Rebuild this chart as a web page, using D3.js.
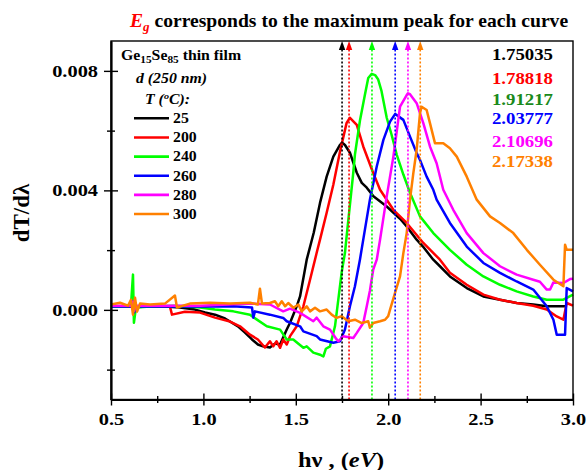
<!DOCTYPE html>
<html><head><meta charset="utf-8">
<script src="https://cdn.jsdelivr.net/npm/d3@7"></script>
</head><body style="margin:0;background:#fff">
<svg id="c" width="586" height="470" font-family="Liberation Serif" font-weight="bold" style="display:block"></svg>
<script>
// ---------- data ----------
const temps = ["25","200","240","260","280","300"];
const colors = ["#000000","#ff0000","#00ff00","#0000ff","#ff00ff","#ff8000"];
const egValues = [1.75035,1.78818,1.91217,2.03777,2.10696,2.17338];
const egColors = ["#000000","#ff0000","#1a8a1a","#0000ff","#ff00ff","#ff8000"];
const xTicks = [0.5,1.0,1.5,2.0,2.5,3.0];
const xMinor = [0.75,1.25,1.75,2.25,2.75];
const yTicks = [0,0.004,0.008];
const yMinor = [-0.002,0.002,0.006];
const yUnit = 1e-3; // series y values below are in units of 1e-3

const s25 = [[0.50,0.11],[0.576,0.11],[0.612,0.12],[0.619,0.24],[0.625,0.02],[0.635,0.10],[0.711,0.11],[0.792,0.11],[0.873,0.08],[0.955,0.01],[1.009,-0.09],[1.063,-0.16],[1.117,-0.29],[1.187,-0.55],[1.225,-0.76],[1.263,-0.99],[1.295,-1.16],[1.322,-1.22],[1.36,-1.26],[1.387,-1.13],[1.415,-1.16],[1.431,-0.93],[1.451,-0.66],[1.469,-0.43],[1.505,0.12],[1.523,0.45],[1.559,1.68],[1.597,2.58],[1.631,3.58],[1.667,4.46],[1.703,5.13],[1.739,5.52],[1.750,5.60],[1.766,5.52],[1.793,5.26],[1.83,4.59],[1.857,4.25],[1.884,4.09],[1.92,3.80],[1.992,3.46],[2.064,3.05],[2.10,2.79],[2.154,2.35],[2.188,2.12],[2.244,1.68],[2.28,1.46],[2.334,1.12],[2.425,0.73],[2.515,0.45],[2.605,0.34],[2.695,0.23],[2.785,0.18],[2.858,0.12],[2.957,0.12]];
const s200 = [[0.50,0.11],[0.612,0.11],[0.619,0.21],[0.625,0.03],[0.635,0.11],[0.711,0.11],[0.819,0.11],[0.83,-0.16],[0.90,-0.06],[0.982,-0.09],[1.063,-0.26],[1.144,-0.39],[1.198,-0.55],[1.252,-0.83],[1.295,-0.99],[1.333,-1.26],[1.36,-1.05],[1.378,-1.22],[1.396,-1.05],[1.415,-1.27],[1.432,-0.99],[1.451,-1.16],[1.469,-0.88],[1.505,-0.55],[1.541,0.12],[1.577,1.01],[1.613,1.91],[1.631,2.35],[1.667,3.25],[1.703,4.19],[1.739,5.29],[1.775,6.26],[1.793,6.43],[1.83,6.19],[1.865,5.47],[1.919,4.58],[1.956,4.02],[2.028,3.35],[2.10,2.91],[2.19,2.24],[2.28,1.68],[2.334,1.24],[2.425,0.84],[2.515,0.51],[2.605,0.34],[2.695,0.23],[2.785,0.14],[2.858,0.01],[2.912,-0.22],[2.948,-0.33],[2.966,0.23],[3.0,0.14]];
const s240 = [[0.50,0.11],[0.576,0.11],[0.608,0.14],[0.619,1.18],[0.624,-0.43],[0.635,0.08],[0.711,0.11],[0.846,0.14],[0.982,0.08],[1.063,0.01],[1.162,-0.05],[1.252,-0.16],[1.274,-0.26],[1.343,-0.55],[1.415,-0.66],[1.451,-0.99],[1.486,-0.99],[1.541,-1.27],[1.559,-1.22],[1.595,-1.43],[1.631,-1.50],[1.649,-1.56],[1.663,-1.30],[1.685,-1.22],[1.712,-0.55],[1.73,0.34],[1.748,1.25],[1.766,1.91],[1.775,2.46],[1.793,3.52],[1.811,4.59],[1.82,5.20],[1.847,6.33],[1.874,7.20],[1.892,7.76],[1.911,7.90],[1.929,7.86],[1.946,7.71],[1.964,7.32],[1.992,6.43],[2.018,5.87],[2.046,5.20],[2.082,4.53],[2.118,3.92],[2.172,3.13],[2.244,2.57],[2.334,2.01],[2.425,1.51],[2.515,1.12],[2.605,0.84],[2.695,0.62],[2.785,0.45],[2.858,0.34],[2.948,0.34],[3.0,0.51]];
const s260 = [[0.50,0.11],[0.612,0.11],[0.619,0.28],[0.625,-0.09],[0.635,0.11],[0.711,0.11],[0.982,0.11],[1.162,0.12],[1.263,0.08],[1.27,-0.26],[1.279,-0.05],[1.36,-0.16],[1.432,-0.27],[1.451,-0.38],[1.523,-0.55],[1.541,-0.72],[1.613,-0.88],[1.631,-0.99],[1.703,-1.10],[1.739,-1.05],[1.766,-0.66],[1.793,0.12],[1.82,0.79],[1.847,1.68],[1.865,2.35],[1.901,3.69],[1.938,4.80],[1.974,5.69],[2.01,6.30],[2.038,6.56],[2.082,6.36],[2.118,5.80],[2.154,5.25],[2.172,5.02],[2.208,4.46],[2.244,4.02],[2.262,3.69],[2.334,2.91],[2.425,2.12],[2.515,1.57],[2.605,1.24],[2.695,0.95],[2.785,0.68],[2.858,0.12],[2.894,-0.33],[2.912,-0.83],[2.957,-0.83],[2.966,0.73],[3.0,0.62]];
const s280 = [[0.50,0.14],[0.612,0.14],[0.619,0.28],[0.625,-0.03],[0.635,0.14],[0.711,0.14],[0.982,0.14],[1.252,0.21],[1.36,0.18],[1.432,-0.05],[1.469,0.04],[1.523,-0.10],[1.595,-0.38],[1.613,-0.26],[1.649,-0.55],[1.685,-0.66],[1.721,-0.99],[1.731,-1.05],[1.757,-0.88],[1.811,-0.94],[1.83,-0.77],[1.865,-0.44],[1.884,0.12],[1.901,0.64],[1.919,1.35],[1.938,1.68],[1.956,2.35],[1.992,3.80],[2.028,5.13],[2.064,6.80],[2.10,7.19],[2.107,7.25],[2.118,7.22],[2.154,6.92],[2.19,6.25],[2.226,5.47],[2.262,4.91],[2.298,4.02],[2.352,3.35],[2.425,2.57],[2.515,1.90],[2.605,1.46],[2.695,1.18],[2.785,1.01],[2.821,0.94],[2.858,0.68],[2.876,0.68],[2.894,0.92],[2.948,0.90],[2.984,1.03],[3.0,1.04]];
const s300 = [[0.50,0.18],[0.549,0.24],[0.592,0.14],[0.608,0.34],[0.619,-0.16],[0.63,0.41],[0.641,-0.06],[0.657,0.21],[0.711,0.18],[0.792,0.21],[0.846,0.48],[0.857,0.08],[0.927,0.21],[1.036,0.24],[1.144,0.21],[1.252,0.24],[1.295,0.18],[1.306,0.71],[1.317,0.21],[1.36,0.23],[1.387,0.29],[1.405,0.12],[1.424,0.29],[1.442,0.12],[1.459,0.23],[1.487,0.07],[1.514,0.18],[1.532,-0.05],[1.559,0.12],[1.577,-0.05],[1.604,0.07],[1.631,-0.05],[1.667,0.01],[1.694,-0.16],[1.721,-0.27],[1.748,-0.21],[1.784,-0.38],[1.82,-0.33],[1.857,-0.44],[1.892,-0.38],[1.901,-0.60],[1.919,-0.44],[1.956,-0.38],[1.983,-0.33],[2.0,-0.21],[2.01,0.01],[2.037,0.57],[2.064,1.12],[2.082,1.90],[2.10,2.57],[2.118,3.69],[2.136,4.58],[2.154,5.36],[2.172,6.58],[2.181,6.80],[2.208,6.69],[2.226,6.25],[2.253,5.58],[2.298,5.58],[2.334,5.41],[2.371,5.13],[2.425,4.46],[2.479,3.69],[2.551,3.13],[2.605,2.91],[2.677,2.57],[2.75,2.01],[2.821,1.51],[2.894,1.01],[2.948,0.79],[2.957,2.18],[2.966,2.01],[3.0,2.01]];
const seriesList = [s25,s200,s240,s260,s280,s300];

// ---------- layout ----------
const FONT = "Liberation Serif";
const svg = d3.select("#c");
const L = 111, R = 573, T = 41, B = 399.5;
const x = d3.scaleLinear().domain([0.5,3.0]).range([L,R]);
const y = d3.scaleLinear().domain([-0.003,0.009]).range([B,T]);

function txt(parent, px, py, size, sx){
  return parent.append("text").attr("transform",`translate(${px},${py}) scale(${sx},1)`)
    .attr("font-family",FONT).attr("font-weight","bold").attr("font-size",size);
}

// title
const title = txt(svg, 349, 27, 18, 1.09).attr("text-anchor","middle");
title.append("tspan").attr("fill","#ff0000").attr("font-style","italic").text("E");
title.append("tspan").attr("fill","#ff0000").attr("font-style","italic").attr("font-size",12).attr("dy",4).text("g");
title.append("tspan").attr("fill","#000").attr("dy",-4).text(" corresponds to the maximum peak for each curve");

// series
const line = d3.line().x(d=>x(d[0])).y(d=>y(d[1]*yUnit));
svg.append("g").selectAll("path").data(seriesList).join("path")
  .attr("d",line).attr("fill","none")
  .attr("stroke",(d,i)=>colors[i]).attr("stroke-width",2.5).attr("stroke-linejoin","round");

// Eg dotted markers with arrows
const eg = svg.append("g");
egValues.forEach((v,i)=>{
  eg.append("line").attr("x1",x(v)).attr("x2",x(v)).attr("y1",B).attr("y2",T+8)
    .attr("stroke",colors[i]).attr("stroke-width",1.6).attr("stroke-dasharray","2,2");
  eg.append("path").attr("d",`M${x(v)},${T}L${x(v)-3.2},${T+9}L${x(v)+3.2},${T+9}Z`).attr("fill",colors[i]);
});

// axes
const ax = svg.append("g");
ax.append("rect").attr("x",L).attr("y",T).attr("width",R-L).attr("height",B-T)
  .attr("fill","none").attr("stroke","#000").attr("stroke-width",1.4);
const xAxisG = ax.append("g").attr("transform",`translate(0,${B})`);
xAxisG.call(d3.axisBottom(x).tickValues(xTicks).tickSizeInner(6).tickSizeOuter(0).tickPadding(7.5).tickFormat(d3.format(".1f")));
xAxisG.append("g").call(d3.axisBottom(x).tickValues(xTicks).tickSizeInner(-6).tickSizeOuter(0).tickFormat(""));
xAxisG.append("g").call(d3.axisBottom(x).tickValues(xMinor).tickSizeInner(3.5).tickSizeOuter(0).tickFormat(""));
xAxisG.append("g").call(d3.axisBottom(x).tickValues(xMinor).tickSizeInner(-3.5).tickSizeOuter(0).tickFormat(""));
const yAxisG = ax.append("g").attr("transform",`translate(${L},0)`);
yAxisG.call(d3.axisLeft(y).tickValues(yTicks).tickSizeInner(7).tickSizeOuter(0).tickPadding(3.8).tickFormat(d3.format(".3f")));
yAxisG.append("g").call(d3.axisLeft(y).tickValues(yTicks).tickSizeInner(-7).tickSizeOuter(0).tickFormat(""));
yAxisG.append("g").call(d3.axisLeft(y).tickValues(yMinor).tickSizeInner(4).tickSizeOuter(0).tickFormat(""));
yAxisG.append("g").call(d3.axisLeft(y).tickValues(yMinor).tickSizeInner(-4).tickSizeOuter(0).tickFormat(""));
ax.selectAll("g").attr("font-family",FONT).attr("font-weight","bold");
ax.selectAll(".domain").attr("stroke","#000").attr("stroke-width",1.4);
ax.selectAll(".tick line").attr("stroke","#000").attr("stroke-width",1.4);
ax.selectAll(".tick text").attr("font-family",FONT).attr("font-weight","bold")
  .attr("font-size",17).attr("fill","#000").attr("transform","scale(1.2,1)");

// axis titles
const xl = txt(svg, 341, 467, 20, 1.22).attr("text-anchor","middle");
xl.append("tspan").text("hν , (");
xl.append("tspan").attr("font-style","italic").text("eV");
xl.append("tspan").text(")");
txt(svg, 0, 0, 23, 1).attr("transform","translate(29,213) rotate(-90)").attr("text-anchor","middle").text("dT/dλ");

// legend
const lg = svg.append("g");
const t1 = txt(lg, 121, 60, 14, 1.13);
t1.append("tspan").text("Ge");
t1.append("tspan").attr("font-size",10).attr("dy",3).text("15");
t1.append("tspan").attr("dy",-3).text("Se");
t1.append("tspan").attr("font-size",10).attr("dy",3).text("85");
t1.append("tspan").attr("dy",-3).text(" thin film");
txt(lg, 136, 83, 14, 1.13).attr("font-style","italic").text("d (250 nm)");
const t3 = txt(lg, 145, 104, 14, 1.13).attr("font-style","italic");
t3.append("tspan").text("T (");
t3.append("tspan").attr("font-size",9).attr("dy",-5).text("o");
t3.append("tspan").attr("dy",5).text("C):");
const legY = d3.scaleLinear().domain([0,5]).range([118.3,214]);
temps.forEach((t,i)=>{
  lg.append("line").attr("x1",134).attr("x2",169).attr("y1",legY(i)).attr("y2",legY(i))
    .attr("stroke",colors[i]).attr("stroke-width",2.6);
  txt(lg, 173, legY(i)+4.8, 14, 1.13).text(t);
});

// Eg values list
const valY = [60,84.3,105,124.3,146.7,167.3];
egValues.forEach((v,i)=>{
  txt(svg, 553, valY[i], 16.5, 1.14).attr("text-anchor","end")
    .attr("fill",egColors[i]).text(d3.format(".5f")(v));
});
</script>
</body></html>
